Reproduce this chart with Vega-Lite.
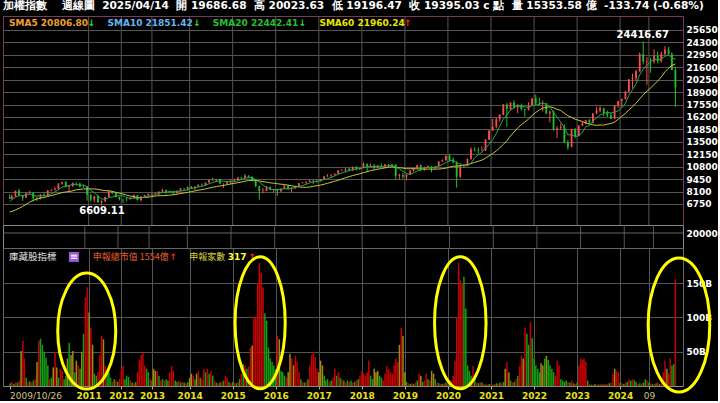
{
"$schema": "https://vega.github.io/schema/vega-lite/v6.json",
"background": "#000000",
"padding": {"left": 2, "top": 1, "right": 0, "bottom": 0},
"spacing": 0,
"bounds": "flush",
"title": {"text": "加權指數\u00a0\u00a0\u00a0\u00a0週線圖\u00a0\u00a02025/04/14\u00a0\u00a0開\u00a019686.68\u00a0\u00a0高\u00a020023.63\u00a0\u00a0低\u00a019196.47\u00a0\u00a0收\u00a019395.03\u00a0c\u00a0點\u00a0\u00a0量\u00a015353.58\u00a0億\u00a0\u00a0-133.74\u00a0(-0.68%)", "anchor": "start", "frame": "group", "font": "DejaVu Sans", "fontSize": 10.6, "fontWeight": "bold", "color": "#ffffff", "offset": 3, "baseline": "top"},
"config": {
  "view": {"stroke": null},
  "axis": {"domain": false, "ticks": false, "gridColor": "#555555", "gridWidth": 1, "labelColor": "#ffffff", "labelFont": "DejaVu Sans", "labelFontSize": 9, "labelFontWeight": "bold", "labelOverlap": false, "labelSeparation": 0}
},
"datasets": {
"gridYears": [
{"date":"2011-08-28"},{"date":"2012-05-31"},{"date":"2013-02-15"},{"date":"2014-01-01"},{"date":"2015-01-01"},{"date":"2016-01-01"},{"date":"2017-01-01"},{"date":"2018-01-01"},{"date":"2019-01-01"},{"date":"2020-01-01"},{"date":"2021-01-01"},{"date":"2022-01-01"},{"date":"2023-01-01"},{"date":"2024-01-01"},{"date":"2024-09-01"}
],
"price": [
{"date":"2009-10-28","open":7509,"high":7812,"low":7281,"close":7340,"sma20":6987,"sma60":5901},
{"date":"2009-11-15","open":7340,"high":7800,"low":7231,"close":7582,"sma20":7217,"sma60":5937},
{"date":"2009-12-15","open":7582,"high":8188,"low":7552,"close":8188,"sma20":7489,"sma60":6102},
{"date":"2010-01-15","open":8188,"high":8395,"low":7640,"close":7640,"sma20":7652,"sma60":6286},
{"date":"2010-02-15","open":7640,"high":7700,"low":7080,"close":7436,"sma20":7637,"sma60":6485},
{"date":"2010-03-15","open":7436,"high":7973,"low":7420,"close":7920,"sma20":7753,"sma60":6707},
{"date":"2010-04-15","open":7920,"high":8190,"low":7860,"close":8004,"sma20":7838,"sma60":6957},
{"date":"2010-05-15","open":8004,"high":8010,"low":7032,"close":7374,"sma20":7675,"sma60":7145},
{"date":"2010-06-15","open":7374,"high":7569,"low":7071,"close":7329,"sma20":7613,"sma60":7286},
{"date":"2010-07-15","open":7329,"high":7837,"low":7250,"close":7760,"sma20":7677,"sma60":7404},
{"date":"2010-08-15","open":7760,"high":7993,"low":7590,"close":7616,"sma20":7617,"sma60":7452},
{"date":"2010-09-15","open":7616,"high":8252,"low":7600,"close":8238,"sma20":7663,"sma60":7573},
{"date":"2010-10-15","open":8238,"high":8383,"low":8110,"close":8287,"sma20":7846,"sma60":7670},
{"date":"2010-11-15","open":8287,"high":8580,"low":8210,"close":8372,"sma20":8055,"sma60":7773},
{"date":"2010-12-15","open":8372,"high":8990,"low":8330,"close":8972,"sma20":8297,"sma60":7870},
{"date":"2011-01-15","open":8972,"high":9145,"low":8850,"close":9145,"sma20":8603,"sma60":7991},
{"date":"2011-02-15","open":9145,"high":9220,"low":8550,"close":8600,"sma20":8675,"sma60":8059},
{"date":"2011-03-15","open":8600,"high":8780,"low":8070,"close":8683,"sma20":8754,"sma60":8092},
{"date":"2011-04-15","open":8683,"high":9100,"low":8610,"close":9007,"sma20":8881,"sma60":8183},
{"date":"2011-05-15","open":9007,"high":9100,"low":8750,"close":8988,"sma20":8885,"sma60":8286},
{"date":"2011-06-15","open":8988,"high":9010,"low":8530,"close":8652,"sma20":8786,"sma60":8335},
{"date":"2011-07-15","open":8652,"high":8860,"low":8520,"close":8644,"sma20":8795,"sma60":8378},
{"date":"2011-08-15","open":8644,"high":8710,"low":7100,"close":7741,"sma20":8606,"sma60":8402},
{"date":"2011-09-15","open":7741,"high":7830,"low":7030,"close":7225,"sma20":8250,"sma60":8395},
{"date":"2011-10-15","open":7225,"high":7640,"low":6950,"close":7588,"sma20":7970,"sma60":8384},
{"date":"2011-11-15","open":7588,"high":7750,"low":6900,"close":6904,"sma20":7620,"sma60":8336},
{"date":"2011-12-15","open":6904,"high":7160,"low":6609,"close":7072,"sma20":7306,"sma60":8259},
{"date":"2012-01-15","open":7072,"high":7520,"low":6950,"close":7517,"sma20":7261,"sma60":8207},
{"date":"2012-02-15","open":7517,"high":8170,"low":7500,"close":8121,"sma20":7440,"sma60":8190},
{"date":"2012-03-15","open":8121,"high":8170,"low":7850,"close":7933,"sma20":7509,"sma60":8121},
{"date":"2012-04-15","open":7933,"high":7950,"low":7450,"close":7501,"sma20":7629,"sma60":8012},
{"date":"2012-05-15","open":7501,"high":7560,"low":7140,"close":7301,"sma20":7675,"sma60":7925},
{"date":"2012-06-15","open":7301,"high":7330,"low":6860,"close":7296,"sma20":7630,"sma60":7832},
{"date":"2012-07-15","open":7296,"high":7450,"low":7060,"close":7270,"sma20":7460,"sma60":7717},
{"date":"2012-08-15","open":7270,"high":7500,"low":7250,"close":7397,"sma20":7353,"sma60":7611},
{"date":"2012-09-15","open":7397,"high":7780,"low":7350,"close":7715,"sma20":7396,"sma60":7548},
{"date":"2012-10-15","open":7715,"high":7760,"low":7150,"close":7166,"sma20":7369,"sma60":7450},
{"date":"2012-11-15","open":7166,"high":7580,"low":7050,"close":7580,"sma20":7426,"sma60":7439},
{"date":"2012-12-15","open":7580,"high":7740,"low":7540,"close":7700,"sma20":7512,"sma60":7471},
{"date":"2013-01-15","open":7700,"high":7870,"low":7630,"close":7850,"sma20":7602,"sma60":7488},
{"date":"2013-02-15","open":7850,"high":7960,"low":7750,"close":7907,"sma20":7641,"sma60":7555},
{"date":"2013-03-15","open":7907,"high":7960,"low":7720,"close":7919,"sma20":7791,"sma60":7612},
{"date":"2013-04-15","open":7919,"high":8100,"low":7700,"close":8093,"sma20":7894,"sma60":7650},
{"date":"2013-05-15","open":8093,"high":8400,"low":8070,"close":8254,"sma20":8005,"sma60":7659},
{"date":"2013-06-15","open":8254,"high":8330,"low":7800,"close":8062,"sma20":8047,"sma60":7667},
{"date":"2013-07-15","open":8062,"high":8200,"low":7950,"close":8108,"sma20":8087,"sma60":7708},
{"date":"2013-08-15","open":8108,"high":8190,"low":7780,"close":7914,"sma20":8086,"sma60":7749},
{"date":"2013-09-15","open":7914,"high":8250,"low":7900,"close":8174,"sma20":8102,"sma60":7807},
{"date":"2013-10-15","open":8174,"high":8460,"low":8150,"close":8450,"sma20":8142,"sma60":7886},
{"date":"2013-11-15","open":8450,"high":8470,"low":8150,"close":8407,"sma20":8211,"sma60":7953},
{"date":"2013-12-15","open":8407,"high":8620,"low":8200,"close":8612,"sma20":8311,"sma60":8013},
{"date":"2014-01-15","open":8612,"high":8700,"low":8400,"close":8463,"sma20":8421,"sma60":8099},
{"date":"2014-02-15","open":8463,"high":8660,"low":8260,"close":8640,"sma20":8514,"sma60":8170},
{"date":"2014-03-15","open":8640,"high":8860,"low":8600,"close":8849,"sma20":8594,"sma60":8247},
{"date":"2014-04-15","open":8849,"high":8980,"low":8740,"close":8792,"sma20":8671,"sma60":8310},
{"date":"2014-05-15","open":8792,"high":9080,"low":8750,"close":9075,"sma20":8764,"sma60":8387},
{"date":"2014-06-15","open":9075,"high":9400,"low":9070,"close":9393,"sma20":8950,"sma60":8486},
{"date":"2014-07-15","open":9393,"high":9593,"low":9300,"close":9316,"sma20":9085,"sma60":8567},
{"date":"2014-08-15","open":9316,"high":9470,"low":9140,"close":9436,"sma20":9202,"sma60":8646},
{"date":"2014-09-15","open":9436,"high":9450,"low":8950,"close":8966,"sma20":9237,"sma60":8706},
{"date":"2014-10-15","open":8966,"high":9010,"low":8500,"close":8974,"sma20":9217,"sma60":8764},
{"date":"2014-11-15","open":8974,"high":9190,"low":8900,"close":9187,"sma20":9176,"sma60":8849},
{"date":"2014-12-15","open":9187,"high":9310,"low":8880,"close":9307,"sma20":9174,"sma60":8924},
{"date":"2015-01-15","open":9307,"high":9500,"low":9160,"close":9361,"sma20":9159,"sma60":8985},
{"date":"2015-02-15","open":9361,"high":9630,"low":9330,"close":9622,"sma20":9290,"sma60":9066},
{"date":"2015-03-15","open":9622,"high":9700,"low":9440,"close":9586,"sma20":9413,"sma60":9131},
{"date":"2015-04-15","open":9586,"high":10014,"low":9560,"close":9820,"sma20":9539,"sma60":9222},
{"date":"2015-05-15","open":9820,"high":9880,"low":9560,"close":9701,"sma20":9618,"sma60":9292},
{"date":"2015-06-15","open":9701,"high":9750,"low":9200,"close":9323,"sma20":9610,"sma60":9324},
{"date":"2015-07-15","open":9323,"high":9450,"low":8600,"close":8665,"sma20":9419,"sma60":9315},
{"date":"2015-08-15","open":8665,"high":8700,"low":7203,"close":8174,"sma20":9137,"sma60":9256},
{"date":"2015-09-15","open":8174,"high":8500,"low":7920,"close":8181,"sma20":8809,"sma60":9175},
{"date":"2015-10-15","open":8181,"high":8700,"low":8150,"close":8554,"sma20":8579,"sma60":9124},
{"date":"2015-11-15","open":8554,"high":8670,"low":8240,"close":8320,"sma20":8379,"sma60":9049},
{"date":"2015-12-15","open":8320,"high":8400,"low":8000,"close":8338,"sma20":8313,"sma60":9007},
{"date":"2016-01-15","open":8338,"high":8340,"low":7627,"close":8145,"sma20":8308,"sma60":8953},
{"date":"2016-02-15","open":8145,"high":8450,"low":8000,"close":8411,"sma20":8354,"sma60":8901},
{"date":"2016-03-15","open":8411,"high":8780,"low":8400,"close":8745,"sma20":8392,"sma60":8863},
{"date":"2016-04-15","open":8745,"high":8800,"low":8290,"close":8377,"sma20":8403,"sma60":8797},
{"date":"2016-05-15","open":8377,"high":8560,"low":8050,"close":8536,"sma20":8443,"sma60":8725},
{"date":"2016-06-15","open":8536,"high":8700,"low":8370,"close":8666,"sma20":8547,"sma60":8664},
{"date":"2016-07-15","open":8666,"high":9030,"low":8600,"close":9008,"sma20":8666,"sma60":8610},
{"date":"2016-08-15","open":9008,"high":9130,"low":8990,"close":9069,"sma20":8731,"sma60":8567},
{"date":"2016-09-15","open":9069,"high":9200,"low":8900,"close":9167,"sma20":8889,"sma60":8557},
{"date":"2016-10-15","open":9167,"high":9400,"low":9150,"close":9290,"sma20":9040,"sma60":8599},
{"date":"2016-11-15","open":9290,"high":9350,"low":8900,"close":9240,"sma20":9155,"sma60":8670},
{"date":"2016-12-15","open":9240,"high":9400,"low":9000,"close":9254,"sma20":9204,"sma60":8741},
{"date":"2017-01-15","open":9254,"high":9480,"low":9180,"close":9448,"sma20":9280,"sma60":8801},
{"date":"2017-02-15","open":9448,"high":9760,"low":9440,"close":9750,"sma20":9396,"sma60":8896},
{"date":"2017-03-15","open":9750,"high":9990,"low":9700,"close":9811,"sma20":9501,"sma60":8995},
{"date":"2017-04-15","open":9811,"high":9980,"low":9650,"close":9872,"sma20":9627,"sma60":9110},
{"date":"2017-05-15","open":9872,"high":10060,"low":9850,"close":10040,"sma20":9784,"sma60":9218},
{"date":"2017-06-15","open":10040,"high":10400,"low":10000,"close":10395,"sma20":9974,"sma60":9328},
{"date":"2017-07-15","open":10395,"high":10510,"low":10300,"close":10427,"sma20":10109,"sma60":9465},
{"date":"2017-08-15","open":10427,"high":10620,"low":10180,"close":10585,"sma20":10264,"sma60":9602},
{"date":"2017-09-15","open":10585,"high":10640,"low":10300,"close":10384,"sma20":10366,"sma60":9716},
{"date":"2017-10-15","open":10384,"high":10800,"low":10350,"close":10793,"sma20":10517,"sma60":9835},
{"date":"2017-11-15","open":10793,"high":10850,"low":10400,"close":10560,"sma20":10550,"sma60":9935},
{"date":"2017-12-15","open":10560,"high":10700,"low":10450,"close":10643,"sma20":10593,"sma60":10033},
{"date":"2018-01-15","open":10643,"high":11270,"low":10640,"close":11103,"sma20":10697,"sma60":10154},
{"date":"2018-02-15","open":11103,"high":11130,"low":10190,"close":10815,"sma20":10783,"sma60":10259},
{"date":"2018-03-15","open":10815,"high":11140,"low":10760,"close":10919,"sma20":10808,"sma60":10370},
{"date":"2018-04-15","open":10919,"high":11100,"low":10500,"close":10657,"sma20":10827,"sma60":10450},
{"date":"2018-05-15","open":10657,"high":11000,"low":10600,"close":10875,"sma20":10874,"sma60":10525},
{"date":"2018-06-15","open":10875,"high":11150,"low":10700,"close":10837,"sma20":10821,"sma60":10594},
{"date":"2018-07-15","open":10837,"high":11100,"low":10650,"close":11057,"sma20":10869,"sma60":10673},
{"date":"2018-08-15","open":11057,"high":11100,"low":10760,"close":11064,"sma20":10898,"sma60":10741},
{"date":"2018-09-15","open":11064,"high":11100,"low":10800,"close":11006,"sma20":10968,"sma60":10782},
{"date":"2018-10-15","open":11006,"high":11100,"low":9400,"close":9802,"sma20":10753,"sma60":10740},
{"date":"2018-11-15","open":9802,"high":10050,"low":9450,"close":9888,"sma20":10563,"sma60":10694},
{"date":"2018-12-15","open":9888,"high":10100,"low":9500,"close":9727,"sma20":10297,"sma60":10650},
{"date":"2019-01-15","open":9727,"high":9960,"low":9320,"close":9932,"sma20":10071,"sma60":10592},
{"date":"2019-02-15","open":9932,"high":10400,"low":9900,"close":10389,"sma20":9948,"sma60":10581},
{"date":"2019-03-15","open":10389,"high":10650,"low":10250,"close":10641,"sma20":10115,"sma60":10581},
{"date":"2019-04-15","open":10641,"high":11000,"low":10600,"close":10967,"sma20":10331,"sma60":10572},
{"date":"2019-05-15","open":10967,"high":11030,"low":10300,"close":10498,"sma20":10485,"sma60":10550},
{"date":"2019-06-15","open":10498,"high":10800,"low":10350,"close":10730,"sma20":10645,"sma60":10538},
{"date":"2019-07-15","open":10730,"high":10950,"low":10700,"close":10824,"sma20":10732,"sma60":10549},
{"date":"2019-08-15","open":10824,"high":10850,"low":10200,"close":10618,"sma20":10727,"sma60":10532},
{"date":"2019-09-15","open":10618,"high":10900,"low":10600,"close":10830,"sma20":10700,"sma60":10531},
{"date":"2019-10-15","open":10830,"high":11400,"low":10800,"close":11358,"sma20":10872,"sma60":10551},
{"date":"2019-11-15","open":11358,"high":11600,"low":11350,"close":11490,"sma20":11024,"sma60":10580},
{"date":"2019-12-15","open":11490,"high":12000,"low":11450,"close":11997,"sma20":11259,"sma60":10646},
{"date":"2020-01-15","open":11997,"high":12197,"low":11400,"close":11495,"sma20":11434,"sma60":10759},
{"date":"2020-02-15","open":11495,"high":11800,"low":11150,"close":11292,"sma20":11526,"sma60":10852},
{"date":"2020-03-15","open":11292,"high":11400,"low":8523,"close":9708,"sma20":11196,"sma60":10851},
{"date":"2020-04-15","open":9708,"high":11000,"low":9600,"close":10992,"sma20":11097,"sma60":10922},
{"date":"2020-05-15","open":10992,"high":11100,"low":10700,"close":10942,"sma20":10886,"sma60":10959},
{"date":"2020-06-15","open":10942,"high":11700,"low":10900,"close":11621,"sma20":10911,"sma60":11024},
{"date":"2020-07-15","open":11621,"high":12900,"low":11600,"close":12665,"sma20":11186,"sma60":11137},
{"date":"2020-08-15","open":12665,"high":12900,"low":12450,"close":12592,"sma20":11762,"sma60":11277},
{"date":"2020-09-15","open":12592,"high":12900,"low":12200,"close":12516,"sma20":12067,"sma60":11396},
{"date":"2020-10-15","open":12516,"high":13000,"low":12500,"close":12546,"sma20":12388,"sma60":11511},
{"date":"2020-11-15","open":12546,"high":13800,"low":12500,"close":13722,"sma20":12808,"sma60":11718},
{"date":"2020-12-15","open":13722,"high":14750,"low":13700,"close":14733,"sma20":13222,"sma60":11978},
{"date":"2021-01-15","open":14733,"high":16000,"low":14700,"close":15138,"sma20":13731,"sma60":12230},
{"date":"2021-02-15","open":15138,"high":16100,"low":15000,"close":15953,"sma20":14418,"sma60":12527},
{"date":"2021-03-15","open":15953,"high":16500,"low":15700,"close":16431,"sma20":15195,"sma60":12823},
{"date":"2021-04-15","open":16431,"high":17600,"low":16400,"close":17567,"sma20":15964,"sma60":13228},
{"date":"2021-05-15","open":17567,"high":17700,"low":15162,"close":17068,"sma20":16431,"sma60":13613},
{"date":"2021-06-15","open":17068,"high":17800,"low":16900,"close":17755,"sma20":16955,"sma60":14149},
{"date":"2021-07-15","open":17755,"high":18034,"low":17100,"close":17247,"sma20":17214,"sma60":14566},
{"date":"2021-08-15","open":17247,"high":17600,"low":16600,"close":17490,"sma20":17425,"sma60":15003},
{"date":"2021-09-15","open":17490,"high":17650,"low":16900,"close":17066,"sma20":17325,"sma60":15366},
{"date":"2021-10-15","open":17066,"high":17100,"low":16250,"close":16987,"sma20":17309,"sma60":15654},
{"date":"2021-11-15","open":16987,"high":17800,"low":16900,"close":17428,"sma20":17244,"sma60":15977},
{"date":"2021-12-15","open":17428,"high":18250,"low":17400,"close":18218,"sma20":17438,"sma60":16357},
{"date":"2022-01-15","open":18218,"high":18619,"low":17500,"close":17674,"sma20":17475,"sma60":16698},
{"date":"2022-02-15","open":17674,"high":18300,"low":17400,"close":17652,"sma20":17592,"sma60":16960},
{"date":"2022-03-15","open":17652,"high":18000,"low":16800,"close":17693,"sma20":17733,"sma60":17158},
{"date":"2022-04-15","open":17693,"high":17700,"low":16500,"close":16592,"sma20":17566,"sma60":17255},
{"date":"2022-05-15","open":16592,"high":16900,"low":15600,"close":16808,"sma20":17284,"sma60":17312},
{"date":"2022-06-15","open":16808,"high":16900,"low":14700,"close":14826,"sma20":16714,"sma60":17205},
{"date":"2022-07-15","open":14826,"high":15200,"low":13900,"close":14981,"sma20":16180,"sma60":17032},
{"date":"2022-08-15","open":14981,"high":15500,"low":14800,"close":15095,"sma20":15660,"sma60":16901},
{"date":"2022-09-15","open":15095,"high":15400,"low":13400,"close":13425,"sma20":15027,"sma60":16612},
{"date":"2022-10-15","open":13425,"high":13700,"low":12629,"close":12950,"sma20":14255,"sma60":16326},
{"date":"2022-11-15","open":12950,"high":14900,"low":12900,"close":14880,"sma20":14266,"sma60":16152},
{"date":"2022-12-15","open":14880,"high":15000,"low":13900,"close":14138,"sma20":14098,"sma60":15957},
{"date":"2023-01-15","open":14138,"high":15300,"low":14100,"close":15265,"sma20":14132,"sma60":15842},
{"date":"2023-02-15","open":15265,"high":15700,"low":15200,"close":15504,"sma20":14547,"sma60":15713},
{"date":"2023-03-15","open":15504,"high":15900,"low":15400,"close":15868,"sma20":15131,"sma60":15557},
{"date":"2023-04-15","open":15868,"high":16000,"low":15400,"close":15579,"sma20":15271,"sma60":15417},
{"date":"2023-05-15","open":15579,"high":16600,"low":15500,"close":16579,"sma20":15759,"sma60":15346},
{"date":"2023-06-15","open":16579,"high":17300,"low":16500,"close":16916,"sma20":16089,"sma60":15294},
{"date":"2023-07-15","open":16916,"high":17400,"low":16700,"close":17146,"sma20":16418,"sma60":15331},
{"date":"2023-08-15","open":17146,"high":17200,"low":16300,"close":16635,"sma20":16571,"sma60":15319},
{"date":"2023-09-15","open":16635,"high":16900,"low":16200,"close":16354,"sma20":16726,"sma60":15421},
{"date":"2023-10-15","open":16354,"high":16700,"low":16000,"close":16001,"sma20":16610,"sma60":15489},
{"date":"2023-11-15","open":16001,"high":17500,"low":16000,"close":17433,"sma20":16714,"sma60":15645},
{"date":"2023-12-15","open":17433,"high":17950,"low":17200,"close":17931,"sma20":16871,"sma60":15945},
{"date":"2024-01-15","open":17931,"high":18200,"low":17300,"close":18151,"sma20":17174,"sma60":16292},
{"date":"2024-02-15","open":18151,"high":19000,"low":18100,"close":18967,"sma20":17697,"sma60":16565},
{"date":"2024-03-15","open":18967,"high":20300,"low":18900,"close":20294,"sma20":18555,"sma60":16975},
{"date":"2024-04-15","open":20294,"high":20900,"low":19300,"close":20397,"sma20":19148,"sma60":17317},
{"date":"2024-05-15","open":20397,"high":21300,"low":20100,"close":21174,"sma20":19797,"sma60":17695},
{"date":"2024-06-15","open":21174,"high":23200,"low":21100,"close":23033,"sma20":20773,"sma60":18173},
{"date":"2024-07-15","open":23033,"high":24417,"low":21900,"close":22200,"sma20":21420,"sma60":18614},
{"date":"2024-08-15","open":22200,"high":22700,"low":19662,"close":22268,"sma20":21814,"sma60":18993},
{"date":"2024-09-15","open":22268,"high":22600,"low":21000,"close":22225,"sma20":22180,"sma60":19347},
{"date":"2024-10-15","open":22225,"high":23550,"low":22000,"close":22820,"sma20":22509,"sma60":19726},
{"date":"2024-11-15","open":22820,"high":23300,"low":22000,"close":22262,"sma20":22355,"sma60":20101},
{"date":"2024-12-15","open":22262,"high":23300,"low":22100,"close":23035,"sma20":22522,"sma60":20546},
{"date":"2025-01-15","open":23035,"high":23900,"low":22900,"close":23526,"sma20":22774,"sma60":21100},
{"date":"2025-02-15","open":23526,"high":23800,"low":22900,"close":23053,"sma20":22939,"sma60":21500},
{"date":"2025-03-15","open":23053,"high":23200,"low":21300,"close":21298,"sma20":22635,"sma60":21800},
{"date":"2025-04-14","open":21298,"high":21600,"low":17306,"close":19395,"sma20":22442,"sma60":21960}
],
"buyback": [
{"date":"2009-11-01","value":4,"dir":"down"},{"date":"2009-11-16","value":6,"dir":"up"},{"date":"2009-12-01","value":3,"dir":"down"},{"date":"2009-12-16","value":5,"dir":"up"},
{"date":"2010-01-01","value":5,"dir":"down"},{"date":"2010-01-16","value":8,"dir":"up"},{"date":"2010-02-01","value":51,"dir":"mixed"},{"date":"2010-02-16","value":66,"dir":"up"},{"date":"2010-03-01","value":40,"dir":"up"},{"date":"2010-03-16","value":12,"dir":"down"},{"date":"2010-04-01","value":6,"dir":"up"},{"date":"2010-04-16","value":7,"dir":"down"},{"date":"2010-05-01","value":5,"dir":"up"},{"date":"2010-05-16","value":8,"dir":"down"},{"date":"2010-06-01","value":10,"dir":"up"},{"date":"2010-06-16","value":35,"dir":"mixed"},{"date":"2010-07-01","value":66,"dir":"up"},{"date":"2010-07-16","value":69,"dir":"down"},{"date":"2010-08-01","value":60,"dir":"down"},{"date":"2010-08-16","value":50,"dir":"down"},{"date":"2010-09-01","value":41,"dir":"down"},{"date":"2010-09-16","value":30,"dir":"down"},{"date":"2010-10-01","value":10,"dir":"up"},{"date":"2010-10-16","value":12,"dir":"down"},{"date":"2010-11-01","value":27,"dir":"mixed"},{"date":"2010-11-16","value":50,"dir":"up"},{"date":"2010-12-01","value":27,"dir":"mixed"},{"date":"2010-12-16","value":12,"dir":"down"},
{"date":"2011-01-01","value":25,"dir":"up"},{"date":"2011-01-16","value":22,"dir":"up"},{"date":"2011-02-01","value":10,"dir":"down"},{"date":"2011-02-16","value":15,"dir":"down"},{"date":"2011-03-01","value":40,"dir":"mixed"},{"date":"2011-03-16","value":63,"dir":"down"},{"date":"2011-04-01","value":45,"dir":"mixed"},{"date":"2011-04-16","value":51,"dir":"mixed"},{"date":"2011-05-01","value":20,"dir":"down"},{"date":"2011-05-16","value":37,"dir":"mixed"},{"date":"2011-06-01","value":30,"dir":"up"},{"date":"2011-06-16","value":25,"dir":"down"},{"date":"2011-07-01","value":50,"dir":"mixed"},{"date":"2011-07-16","value":76,"dir":"down"},{"date":"2011-08-01","value":129,"dir":"up"},{"date":"2011-08-16","value":144,"dir":"up"},{"date":"2011-09-01","value":107,"dir":"mixed"},{"date":"2011-09-16","value":85,"dir":"up"},{"date":"2011-10-01","value":60,"dir":"mixed"},{"date":"2011-10-16","value":18,"dir":"down"},{"date":"2011-11-01","value":15,"dir":"down"},{"date":"2011-11-16","value":20,"dir":"up"},{"date":"2011-12-01","value":45,"dir":"up"},{"date":"2011-12-16","value":73,"dir":"up"},
{"date":"2012-01-01","value":68,"dir":"mixed"},{"date":"2012-01-16","value":30,"dir":"up"},{"date":"2012-02-01","value":22,"dir":"down"},{"date":"2012-02-16","value":20,"dir":"down"},{"date":"2012-03-01","value":12,"dir":"down"},{"date":"2012-03-16","value":6,"dir":"up"},{"date":"2012-04-01","value":10,"dir":"down"},{"date":"2012-04-16","value":8,"dir":"up"},{"date":"2012-05-01","value":6,"dir":"down"},{"date":"2012-05-16","value":10,"dir":"up"},{"date":"2012-06-01","value":25,"dir":"up"},{"date":"2012-06-16","value":29,"dir":"up"},{"date":"2012-07-01","value":10,"dir":"down"},{"date":"2012-07-16","value":15,"dir":"down"},{"date":"2012-08-01","value":13,"dir":"down"},{"date":"2012-08-16","value":8,"dir":"up"},{"date":"2012-09-01","value":5,"dir":"down"},{"date":"2012-09-16","value":4,"dir":"up"},{"date":"2012-10-01","value":6,"dir":"down"},{"date":"2012-10-16","value":20,"dir":"up"},{"date":"2012-11-01","value":38,"dir":"up"},{"date":"2012-11-16","value":45,"dir":"up"},{"date":"2012-12-01","value":48,"dir":"up"},{"date":"2012-12-16","value":30,"dir":"up"},
{"date":"2013-01-01","value":25,"dir":"down"},{"date":"2013-01-16","value":20,"dir":"down"},{"date":"2013-02-01","value":10,"dir":"up"},{"date":"2013-02-16","value":8,"dir":"down"},{"date":"2013-03-01","value":25,"dir":"mixed"},{"date":"2013-03-16","value":22,"dir":"mixed"},{"date":"2013-04-01","value":22,"dir":"up"},{"date":"2013-04-16","value":15,"dir":"down"},{"date":"2013-05-01","value":8,"dir":"up"},{"date":"2013-05-16","value":10,"dir":"down"},{"date":"2013-06-01","value":8,"dir":"up"},{"date":"2013-06-16","value":10,"dir":"down"},{"date":"2013-07-01","value":8,"dir":"down"},{"date":"2013-07-16","value":20,"dir":"up"},{"date":"2013-08-01","value":29,"dir":"up"},{"date":"2013-08-16","value":22,"dir":"up"},{"date":"2013-09-01","value":8,"dir":"down"},{"date":"2013-09-16","value":6,"dir":"down"},{"date":"2013-10-01","value":8,"dir":"up"},{"date":"2013-10-16","value":5,"dir":"down"},{"date":"2013-11-01","value":6,"dir":"up"},{"date":"2013-11-16","value":5,"dir":"down"},{"date":"2013-12-01","value":4,"dir":"up"},{"date":"2013-12-16","value":6,"dir":"down"},
{"date":"2014-01-01","value":12,"dir":"mixed"},{"date":"2014-01-16","value":18,"dir":"mixed"},{"date":"2014-02-01","value":15,"dir":"up"},{"date":"2014-02-16","value":10,"dir":"down"},{"date":"2014-03-01","value":18,"dir":"mixed"},{"date":"2014-03-16","value":22,"dir":"up"},{"date":"2014-04-01","value":12,"dir":"down"},{"date":"2014-04-16","value":10,"dir":"up"},{"date":"2014-05-01","value":25,"dir":"up"},{"date":"2014-05-16","value":20,"dir":"down"},{"date":"2014-06-01","value":25,"dir":"up"},{"date":"2014-06-16","value":18,"dir":"down"},{"date":"2014-07-01","value":22,"dir":"up"},{"date":"2014-07-16","value":15,"dir":"down"},{"date":"2014-08-01","value":8,"dir":"up"},{"date":"2014-08-16","value":5,"dir":"down"},{"date":"2014-09-01","value":4,"dir":"up"},{"date":"2014-09-16","value":5,"dir":"down"},{"date":"2014-10-01","value":6,"dir":"up"},{"date":"2014-10-16","value":8,"dir":"down"},{"date":"2014-11-01","value":15,"dir":"up"},{"date":"2014-11-16","value":12,"dir":"up"},{"date":"2014-12-01","value":6,"dir":"down"},{"date":"2014-12-16","value":4,"dir":"up"},
{"date":"2015-01-01","value":6,"dir":"down"},{"date":"2015-01-16","value":5,"dir":"up"},{"date":"2015-02-01","value":4,"dir":"down"},{"date":"2015-02-16","value":6,"dir":"up"},{"date":"2015-03-01","value":10,"dir":"down"},{"date":"2015-03-16","value":18,"dir":"up"},{"date":"2015-04-01","value":32,"dir":"down"},{"date":"2015-04-16","value":30,"dir":"up"},{"date":"2015-05-01","value":25,"dir":"down"},{"date":"2015-05-16","value":28,"dir":"up"},{"date":"2015-06-01","value":56,"dir":"up"},{"date":"2015-06-16","value":59,"dir":"mixed"},{"date":"2015-07-01","value":100,"dir":"up"},{"date":"2015-07-16","value":100,"dir":"up"},{"date":"2015-08-01","value":150,"dir":"up"},{"date":"2015-08-16","value":179,"dir":"up"},{"date":"2015-09-01","value":165,"dir":"up"},{"date":"2015-09-16","value":144,"dir":"up"},{"date":"2015-10-01","value":106,"dir":"down"},{"date":"2015-10-16","value":95,"dir":"down"},{"date":"2015-11-01","value":56,"dir":"down"},{"date":"2015-11-16","value":40,"dir":"down"},{"date":"2015-12-01","value":35,"dir":"down"},{"date":"2015-12-16","value":30,"dir":"down"},
{"date":"2016-01-01","value":25,"dir":"down"},{"date":"2016-01-16","value":73,"dir":"up"},{"date":"2016-02-01","value":68,"dir":"mixed"},{"date":"2016-02-16","value":22,"dir":"down"},{"date":"2016-03-01","value":20,"dir":"down"},{"date":"2016-03-16","value":15,"dir":"down"},{"date":"2016-04-01","value":12,"dir":"up"},{"date":"2016-04-16","value":20,"dir":"mixed"},{"date":"2016-05-01","value":47,"dir":"mixed"},{"date":"2016-05-16","value":40,"dir":"up"},{"date":"2016-06-01","value":30,"dir":"mixed"},{"date":"2016-06-16","value":44,"dir":"up"},{"date":"2016-07-01","value":35,"dir":"up"},{"date":"2016-07-16","value":20,"dir":"up"},{"date":"2016-08-01","value":10,"dir":"down"},{"date":"2016-08-16","value":6,"dir":"up"},{"date":"2016-09-01","value":5,"dir":"down"},{"date":"2016-09-16","value":6,"dir":"up"},{"date":"2016-10-01","value":10,"dir":"down"},{"date":"2016-10-16","value":30,"dir":"up"},{"date":"2016-11-01","value":45,"dir":"up"},{"date":"2016-11-16","value":50,"dir":"up"},{"date":"2016-12-01","value":42,"dir":"up"},{"date":"2016-12-16","value":25,"dir":"up"},
{"date":"2017-01-01","value":20,"dir":"mixed"},{"date":"2017-01-16","value":37,"dir":"mixed"},{"date":"2017-02-01","value":30,"dir":"mixed"},{"date":"2017-02-16","value":15,"dir":"down"},{"date":"2017-03-01","value":8,"dir":"down"},{"date":"2017-03-16","value":10,"dir":"down"},{"date":"2017-04-01","value":6,"dir":"up"},{"date":"2017-04-16","value":8,"dir":"down"},{"date":"2017-05-01","value":12,"dir":"up"},{"date":"2017-05-16","value":25,"dir":"up"},{"date":"2017-06-01","value":15,"dir":"down"},{"date":"2017-06-16","value":20,"dir":"up"},{"date":"2017-07-01","value":12,"dir":"down"},{"date":"2017-07-16","value":10,"dir":"up"},{"date":"2017-08-01","value":8,"dir":"down"},{"date":"2017-08-16","value":5,"dir":"up"},{"date":"2017-09-01","value":8,"dir":"down"},{"date":"2017-09-16","value":6,"dir":"up"},{"date":"2017-10-01","value":8,"dir":"down"},{"date":"2017-10-16","value":5,"dir":"up"},{"date":"2017-11-01","value":6,"dir":"down"},{"date":"2017-11-16","value":8,"dir":"up"},{"date":"2017-12-01","value":10,"dir":"down"},{"date":"2017-12-16","value":15,"dir":"up"},
{"date":"2018-01-01","value":22,"dir":"up"},{"date":"2018-01-16","value":18,"dir":"up"},{"date":"2018-02-01","value":15,"dir":"up"},{"date":"2018-02-16","value":20,"dir":"up"},{"date":"2018-03-01","value":37,"dir":"up"},{"date":"2018-03-16","value":15,"dir":"down"},{"date":"2018-04-01","value":10,"dir":"down"},{"date":"2018-04-16","value":25,"dir":"mixed"},{"date":"2018-05-01","value":20,"dir":"mixed"},{"date":"2018-05-16","value":22,"dir":"mixed"},{"date":"2018-06-01","value":15,"dir":"down"},{"date":"2018-06-16","value":12,"dir":"down"},{"date":"2018-07-01","value":8,"dir":"up"},{"date":"2018-07-16","value":18,"dir":"up"},{"date":"2018-08-01","value":29,"dir":"up"},{"date":"2018-08-16","value":25,"dir":"up"},{"date":"2018-09-01","value":20,"dir":"up"},{"date":"2018-09-16","value":18,"dir":"up"},{"date":"2018-10-01","value":30,"dir":"up"},{"date":"2018-10-16","value":40,"dir":"up"},{"date":"2018-11-01","value":35,"dir":"up"},{"date":"2018-11-16","value":60,"dir":"mixed"},{"date":"2018-12-01","value":85,"dir":"up"},{"date":"2018-12-16","value":73,"dir":"mixed"},
{"date":"2019-01-01","value":20,"dir":"mixed"},{"date":"2019-01-16","value":6,"dir":"down"},{"date":"2019-02-01","value":4,"dir":"up"},{"date":"2019-02-16","value":3,"dir":"down"},{"date":"2019-03-01","value":4,"dir":"up"},{"date":"2019-03-16","value":3,"dir":"down"},{"date":"2019-04-01","value":5,"dir":"up"},{"date":"2019-04-16","value":8,"dir":"down"},{"date":"2019-05-01","value":18,"dir":"up"},{"date":"2019-05-16","value":15,"dir":"mixed"},{"date":"2019-06-01","value":6,"dir":"down"},{"date":"2019-06-16","value":8,"dir":"up"},{"date":"2019-07-01","value":18,"dir":"up"},{"date":"2019-07-16","value":10,"dir":"down"},{"date":"2019-08-01","value":8,"dir":"up"},{"date":"2019-08-16","value":22,"dir":"mixed"},{"date":"2019-09-01","value":18,"dir":"mixed"},{"date":"2019-09-16","value":10,"dir":"down"},{"date":"2019-10-01","value":5,"dir":"up"},{"date":"2019-10-16","value":4,"dir":"down"},{"date":"2019-11-01","value":3,"dir":"up"},{"date":"2019-11-16","value":3,"dir":"down"},{"date":"2019-12-01","value":4,"dir":"up"},{"date":"2019-12-16","value":5,"dir":"down"},
{"date":"2020-01-01","value":4,"dir":"up"},{"date":"2020-01-16","value":8,"dir":"down"},{"date":"2020-02-01","value":8,"dir":"up"},{"date":"2020-02-16","value":15,"dir":"up"},{"date":"2020-03-01","value":37,"dir":"up"},{"date":"2020-03-16","value":100,"dir":"up"},{"date":"2020-04-01","value":179,"dir":"up"},{"date":"2020-04-16","value":154,"dir":"up"},{"date":"2020-05-01","value":150,"dir":"up"},{"date":"2020-05-16","value":159,"dir":"down"},{"date":"2020-06-01","value":113,"dir":"down"},{"date":"2020-06-16","value":30,"dir":"down"},{"date":"2020-07-01","value":22,"dir":"down"},{"date":"2020-07-16","value":15,"dir":"down"},{"date":"2020-08-01","value":29,"dir":"up"},{"date":"2020-08-16","value":12,"dir":"down"},{"date":"2020-09-01","value":5,"dir":"up"},{"date":"2020-09-16","value":4,"dir":"down"},{"date":"2020-10-01","value":6,"dir":"up"},{"date":"2020-10-16","value":5,"dir":"down"},{"date":"2020-11-01","value":3,"dir":"up"},{"date":"2020-11-16","value":2,"dir":"down"},{"date":"2020-12-01","value":2,"dir":"up"},{"date":"2020-12-16","value":3,"dir":"down"},
{"date":"2021-01-01","value":3,"dir":"up"},{"date":"2021-01-16","value":2,"dir":"down"},{"date":"2021-02-01","value":3,"dir":"up"},{"date":"2021-02-16","value":4,"dir":"down"},{"date":"2021-03-01","value":3,"dir":"up"},{"date":"2021-03-16","value":5,"dir":"down"},{"date":"2021-04-01","value":4,"dir":"up"},{"date":"2021-04-16","value":6,"dir":"down"},{"date":"2021-05-01","value":25,"dir":"mixed"},{"date":"2021-05-16","value":35,"dir":"up"},{"date":"2021-06-01","value":20,"dir":"mixed"},{"date":"2021-06-16","value":8,"dir":"down"},{"date":"2021-07-01","value":5,"dir":"up"},{"date":"2021-07-16","value":6,"dir":"down"},{"date":"2021-08-01","value":10,"dir":"up"},{"date":"2021-08-16","value":15,"dir":"down"},{"date":"2021-09-01","value":29,"dir":"up"},{"date":"2021-09-16","value":44,"dir":"up"},{"date":"2021-10-01","value":40,"dir":"mixed"},{"date":"2021-10-16","value":85,"dir":"up"},{"date":"2021-11-01","value":76,"dir":"down"},{"date":"2021-11-16","value":60,"dir":"down"},{"date":"2021-12-01","value":93,"dir":"up"},{"date":"2021-12-16","value":70,"dir":"down"},
{"date":"2022-01-01","value":40,"dir":"down"},{"date":"2022-01-16","value":30,"dir":"down"},{"date":"2022-02-01","value":25,"dir":"down"},{"date":"2022-02-16","value":20,"dir":"down"},{"date":"2022-03-01","value":33,"dir":"mixed"},{"date":"2022-03-16","value":30,"dir":"mixed"},{"date":"2022-04-01","value":40,"dir":"down"},{"date":"2022-04-16","value":44,"dir":"mixed"},{"date":"2022-05-01","value":38,"dir":"down"},{"date":"2022-05-16","value":30,"dir":"down"},{"date":"2022-06-01","value":25,"dir":"down"},{"date":"2022-06-16","value":20,"dir":"down"},{"date":"2022-07-01","value":15,"dir":"up"},{"date":"2022-07-16","value":37,"dir":"up"},{"date":"2022-08-01","value":30,"dir":"up"},{"date":"2022-08-16","value":10,"dir":"down"},{"date":"2022-09-01","value":8,"dir":"down"},{"date":"2022-09-16","value":6,"dir":"down"},{"date":"2022-10-01","value":8,"dir":"down"},{"date":"2022-10-16","value":6,"dir":"up"},{"date":"2022-11-01","value":5,"dir":"down"},{"date":"2022-11-16","value":8,"dir":"up"},{"date":"2022-12-01","value":4,"dir":"down"},{"date":"2022-12-16","value":3,"dir":"up"},
{"date":"2023-01-01","value":5,"dir":"down"},{"date":"2023-01-16","value":30,"dir":"up"},{"date":"2023-02-01","value":40,"dir":"up"},{"date":"2023-02-16","value":38,"dir":"up"},{"date":"2023-03-01","value":40,"dir":"up"},{"date":"2023-03-16","value":35,"dir":"up"},{"date":"2023-04-01","value":8,"dir":"down"},{"date":"2023-04-16","value":3,"dir":"up"},{"date":"2023-05-01","value":2,"dir":"down"},{"date":"2023-05-16","value":2,"dir":"up"},{"date":"2023-06-01","value":3,"dir":"down"},{"date":"2023-06-16","value":2,"dir":"up"},{"date":"2023-07-01","value":2,"dir":"down"},{"date":"2023-07-16","value":3,"dir":"up"},{"date":"2023-08-01","value":2,"dir":"down"},{"date":"2023-08-16","value":3,"dir":"up"},{"date":"2023-09-01","value":2,"dir":"down"},{"date":"2023-09-16","value":3,"dir":"up"},{"date":"2023-10-01","value":4,"dir":"down"},{"date":"2023-10-16","value":5,"dir":"up"},{"date":"2023-11-01","value":18,"dir":"up"},{"date":"2023-11-16","value":25,"dir":"mixed"},{"date":"2023-12-01","value":22,"dir":"up"},{"date":"2023-12-16","value":20,"dir":"up"},
{"date":"2024-01-01","value":5,"dir":"down"},{"date":"2024-01-16","value":4,"dir":"up"},{"date":"2024-02-01","value":3,"dir":"down"},{"date":"2024-02-16","value":5,"dir":"up"},{"date":"2024-03-01","value":6,"dir":"down"},{"date":"2024-03-16","value":10,"dir":"up"},{"date":"2024-04-01","value":8,"dir":"down"},{"date":"2024-04-16","value":10,"dir":"up"},{"date":"2024-05-01","value":8,"dir":"down"},{"date":"2024-05-16","value":6,"dir":"down"},{"date":"2024-06-01","value":3,"dir":"up"},{"date":"2024-06-16","value":4,"dir":"down"},{"date":"2024-07-01","value":3,"dir":"up"},{"date":"2024-07-16","value":5,"dir":"down"},{"date":"2024-08-01","value":10,"dir":"down"},{"date":"2024-08-16","value":8,"dir":"up"},{"date":"2024-09-01","value":5,"dir":"down"},{"date":"2024-09-16","value":4,"dir":"up"},{"date":"2024-10-01","value":3,"dir":"down"},{"date":"2024-10-16","value":3,"dir":"up"},{"date":"2024-11-01","value":4,"dir":"down"},{"date":"2024-11-16","value":5,"dir":"up"},{"date":"2024-12-01","value":3,"dir":"down"},{"date":"2024-12-16","value":4,"dir":"up"},
{"date":"2025-01-01","value":20,"dir":"up"},{"date":"2025-01-16","value":37,"dir":"up"},{"date":"2025-02-01","value":25,"dir":"mixed"},{"date":"2025-02-16","value":18,"dir":"up"},{"date":"2025-03-01","value":40,"dir":"up"},{"date":"2025-03-16","value":30,"dir":"down"},{"date":"2025-04-01","value":32,"dir":"down"},{"date":"2025-04-14","value":155.4,"dir":"up"}
]
},
"vconcat": [
{
 "width": 680, "height": 209,
 "view": {"stroke": "#7a3a58"},
 "resolve": {"axis": {"x": "independent", "y": "independent"}},
 "layer": [
  {"data": {"name": "gridYears"}, "mark": {"type": "rule", "strokeWidth": 1, "color": "#555555"},
   "encoding": {
    "x": {"field": "date", "type": "temporal", "title": null, "axis": null,
      "scale": {"domain": [{"year": 2009, "month": 10, "date": 13}, {"year": 2025, "month": 5, "date": 6}], "nice": false}}
   }},
  {"data": {"name": "price"}, "mark": {"type": "rule", "strokeWidth": 1},
   "encoding": {
    "x": {"field": "date", "type": "temporal", "title": null, "axis": null,
      "scale": {"domain": [{"year": 2009, "month": 10, "date": 13}, {"year": 2025, "month": 5, "date": 6}], "nice": false}},
    "y": {"field": "low", "type": "quantitative", "title": null,
      "scale": {"domain": [4469, 27167], "nice": false, "zero": false},
      "axis": {"orient": "right", "values": [6750, 8100, 9450, 10800, 12150, 13500, 14850, 16200, 17550, 18900, 20250, 21600, 22950, 24300, 25650], "grid": true, "gridColor": "#555555", "labelPadding": 3, "format": "d", "labelOverlap": false}},
    "y2": {"field": "high"},
    "color": {"condition": {"test": "datum.close >= datum.open", "value": "#ff4a4a"}, "value": "#22c022"}
   }},
  {"data": {"name": "price"}, "mark": {"type": "bar", "size": 1.8},
   "encoding": {
    "x": {"field": "date", "type": "temporal", "title": null, "axis": null},
    "y": {"field": "open", "type": "quantitative", "title": null, "axis": null},
    "y2": {"field": "close"},
    "color": {"condition": {"test": "datum.close >= datum.open", "value": "#ff4a4a"}, "value": "#22c022"}
   }},
  {"data": {"name": "price"}, "mark": {"type": "line", "strokeWidth": 1, "color": "#c8c832"},
   "encoding": {"x": {"field": "date", "type": "temporal", "title": null, "axis": null}, "y": {"field": "sma60", "type": "quantitative", "title": null, "axis": null}}},
  {"data": {"name": "price"}, "mark": {"type": "line", "strokeWidth": 1, "color": "#22aa55"},
   "encoding": {"x": {"field": "date", "type": "temporal", "title": null, "axis": null}, "y": {"field": "sma20", "type": "quantitative", "title": null, "axis": null}}},
  {"data": {"values": [{"date": "2024-07-11", "value": 24416.67}]}, "mark": {"type": "text", "align": "center", "baseline": "bottom", "dy": -1, "font": "DejaVu Sans", "fontSize": 10, "fontWeight": "bold", "color": "#ffffff"},
   "encoding": {"x": {"field": "date", "type": "temporal", "title": null, "axis": null}, "y": {"field": "value", "type": "quantitative", "title": null, "axis": null}, "text": {"field": "value", "type": "quantitative", "format": ".2f"}}},
  {"data": {"values": [{"date": "2011-12-19", "value": 6609.11}]}, "mark": {"type": "text", "align": "center", "baseline": "top", "dy": 1, "font": "DejaVu Sans", "fontSize": 10, "fontWeight": "bold", "color": "#ffffff"},
   "encoding": {"x": {"field": "date", "type": "temporal", "title": null, "axis": null}, "y": {"field": "value", "type": "quantitative", "title": null, "axis": null}, "text": {"field": "value", "type": "quantitative", "format": ".2f"}}},
  {"data": {"values": [{}]}, "mark": {"type": "text", "text": "SMA5 20806.80", "align": "left", "baseline": "middle", "font": "DejaVu Sans", "fontSize": 9, "fontWeight": "bold", "color": "#f0a030"},
   "encoding": {"x": {"datum": {"year": 2009, "month": 10, "date": 22}, "type": "temporal", "title": null, "axis": null}, "y": {"datum": 26400, "type": "quantitative", "title": null, "axis": null}}},
  {"data": {"values": [{}]}, "mark": {"type": "text", "text": "↓", "align": "left", "baseline": "middle", "font": "DejaVu Sans", "fontSize": 9, "fontWeight": "bold", "color": "#22e022"},
   "encoding": {"x": {"datum": {"year": 2011, "month": 8, "date": 20}, "type": "temporal", "title": null, "axis": null}, "y": {"datum": 26400, "type": "quantitative", "title": null, "axis": null}}},
  {"data": {"values": [{}]}, "mark": {"type": "text", "text": "SMA10 21851.42", "align": "left", "baseline": "middle", "font": "DejaVu Sans", "fontSize": 9, "fontWeight": "bold", "color": "#60b8f0"},
   "encoding": {"x": {"datum": {"year": 2012, "month": 2, "date": 4}, "type": "temporal", "title": null, "axis": null}, "y": {"datum": 26400, "type": "quantitative", "title": null, "axis": null}}},
  {"data": {"values": [{}]}, "mark": {"type": "text", "text": "↓", "align": "left", "baseline": "middle", "font": "DejaVu Sans", "fontSize": 9, "fontWeight": "bold", "color": "#22e022"},
   "encoding": {"x": {"datum": {"year": 2014, "month": 1, "date": 31}, "type": "temporal", "title": null, "axis": null}, "y": {"datum": 26400, "type": "quantitative", "title": null, "axis": null}}},
  {"data": {"values": [{}]}, "mark": {"type": "text", "text": "SMA20 22442.41", "align": "left", "baseline": "middle", "font": "DejaVu Sans", "fontSize": 9, "fontWeight": "bold", "color": "#22c030"},
   "encoding": {"x": {"datum": {"year": 2014, "month": 7, "date": 17}, "type": "temporal", "title": null, "axis": null}, "y": {"datum": 26400, "type": "quantitative", "title": null, "axis": null}}},
  {"data": {"values": [{}]}, "mark": {"type": "text", "text": "↓", "align": "left", "baseline": "middle", "font": "DejaVu Sans", "fontSize": 9, "fontWeight": "bold", "color": "#22e022"},
   "encoding": {"x": {"datum": {"year": 2016, "month": 7, "date": 14}, "type": "temporal", "title": null, "axis": null}, "y": {"datum": 26400, "type": "quantitative", "title": null, "axis": null}}},
  {"data": {"values": [{}]}, "mark": {"type": "text", "text": "SMA60 21960.24", "align": "left", "baseline": "middle", "font": "DejaVu Sans", "fontSize": 9, "fontWeight": "bold", "color": "#e8e800"},
   "encoding": {"x": {"datum": {"year": 2017, "month": 1, "date": 6}, "type": "temporal", "title": null, "axis": null}, "y": {"datum": 26400, "type": "quantitative", "title": null, "axis": null}}},
  {"data": {"values": [{}]}, "mark": {"type": "text", "text": "↑", "align": "left", "baseline": "middle", "font": "DejaVu Sans", "fontSize": 9, "fontWeight": "bold", "color": "#ff2020"},
   "encoding": {"x": {"datum": {"year": 2018, "month": 12, "date": 25}, "type": "temporal", "title": null, "axis": null}, "y": {"datum": 26400, "type": "quantitative", "title": null, "axis": null}}}
 ]
},
{
 "width": 680, "height": 23,
 "view": {"stroke": "#888888"},
 "layer": [
  {"data": {"name": "gridYears"}, "mark": {"type": "rule", "strokeWidth": 1, "color": "#555555"},
   "encoding": {
    "x": {"field": "date", "type": "temporal", "title": null, "axis": null,
      "scale": {"domain": [{"year": 2009, "month": 10, "date": 13}, {"year": 2025, "month": 5, "date": 6}], "nice": false}}
   }},
  {"data": {"values": [{"volume": 20000}]}, "mark": {"type": "rule", "strokeWidth": 1, "color": "#666666"},
   "encoding": {
    "y": {"field": "volume", "type": "quantitative", "title": null,
      "scale": {"domain": [0, 30667], "nice": false},
      "axis": {"orient": "right", "values": [20000], "grid": false, "labelPadding": 3, "format": "d"}}
   }}
 ]
},
{
 "width": 680, "height": 138,
 "view": {"stroke": "#666666"},
 "layer": [
  {"data": {"name": "buyback"}, "mark": {"type": "bar", "size": 1.5},
   "encoding": {
    "x": {"field": "date", "type": "temporal", "title": null,
      "scale": {"domain": [{"year": 2009, "month": 10, "date": 13}, {"year": 2025, "month": 5, "date": 6}], "nice": false},
      "axis": {"values": [{"year":2009,"month":10,"date":26},{"year":2011,"month":8,"date":28},{"year":2012,"month":5,"date":31},{"year":2013,"month":2,"date":15},{"year":2014,"month":1,"date":1},{"year":2015,"month":1,"date":1},{"year":2016,"month":1,"date":1},{"year":2017,"month":1,"date":1},{"year":2018,"month":1,"date":1},{"year":2019,"month":1,"date":1},{"year":2020,"month":1,"date":1},{"year":2021,"month":1,"date":1},{"year":2022,"month":1,"date":1},{"year":2023,"month":1,"date":1},{"year":2024,"month":1,"date":1},{"year":2024,"month":9,"date":1}],
        "grid": true, "gridColor": "#555555", "gridOpacity": {"condition": {"test": "year(datum.value) == 2009", "value": 0}, "value": 1},
        "domain": true, "domainColor": "#888888", "ticks": true, "tickColor": "#aaaaaa", "tickSize": 3,
        "labelExpr": "year(datum.value) == 2009 ? '2009/10/26' : (month(datum.value) == 8 ? '09' : timeFormat(datum.value, '%Y'))",
        "labelColor": {"condition": {"test": "year(datum.value) == 2009 || month(datum.value) == 8", "value": "#cfc48a"}, "value": "#e8e020"},
        "labelFontWeight": {"condition": {"test": "year(datum.value) == 2009 || month(datum.value) == 8", "value": "normal"}, "value": "bold"},
        "labelAlign": {"condition": {"test": "year(datum.value) == 2009", "value": "left"}, "value": "center"},
        "labelFlush": false, "labelOverlap": false, "labelPadding": 2, "labelFontSize": 9}},
    "y": {"field": "value", "type": "quantitative", "title": null,
      "scale": {"domain": [0, 201], "nice": false},
      "axis": {"orient": "right", "values": [50, 100, 150], "grid": true, "gridColor": "#555555", "labelExpr": "datum.value + 'B'", "labelPadding": 3}},
    "color": {"field": "dir", "type": "nominal", "legend": null, "scale": {"domain": ["up", "down", "mixed"], "range": ["#c80000", "#12a012", "#a08a10"]}}
   }},
  {"data": {"values": [{}]}, "mark": {"type": "text", "text": "庫藏股指標", "align": "left", "baseline": "middle", "font": "Noto Sans CJK TC", "fontSize": 9.5, "color": "#e0e0e0"},
   "encoding": {"x": {"datum": {"year": 2009, "month": 10, "date": 22}, "type": "temporal", "title": null}, "y": {"datum": 188, "type": "quantitative", "title": null}}},
  {"data": {"values": [{}]}, "mark": {"type": "square", "size": 100, "filled": true, "color": "#9b59d6", "opacity": 1},
   "encoding": {"x": {"datum": {"year": 2011, "month": 4, "date": 25}, "type": "temporal", "title": null}, "y": {"datum": 188, "type": "quantitative", "title": null}}},
  {"data": {"values": [{}]}, "mark": {"type": "text", "text": "≡", "align": "center", "baseline": "middle", "font": "DejaVu Sans", "fontSize": 10, "color": "#ffffff"},
   "encoding": {"x": {"datum": {"year": 2011, "month": 4, "date": 25}, "type": "temporal", "title": null}, "y": {"datum": 188, "type": "quantitative", "title": null}}},
  {"data": {"values": [{}]}, "mark": {"type": "text", "text": "申報總市值 1554億", "align": "left", "baseline": "middle", "font": "Noto Sans CJK TC", "fontSize": 9, "color": "#e06030"},
   "encoding": {"x": {"datum": {"year": 2011, "month": 10, "date": 1}, "type": "temporal", "title": null}, "y": {"datum": 188, "type": "quantitative", "title": null}}},
  {"data": {"values": [{}]}, "mark": {"type": "text", "text": "↑", "align": "left", "baseline": "middle", "font": "DejaVu Sans", "fontSize": 9, "fontWeight": "bold", "color": "#ff2020"},
   "encoding": {"x": {"datum": {"year": 2013, "month": 7, "date": 15}, "type": "temporal", "title": null}, "y": {"datum": 188, "type": "quantitative", "title": null}}},
  {"data": {"values": [{}]}, "mark": {"type": "text", "text": "申報家數", "align": "left", "baseline": "middle", "font": "Noto Sans CJK TC", "fontSize": 9, "color": "#d8d040"},
   "encoding": {"x": {"datum": {"year": 2013, "month": 12, "date": 29}, "type": "temporal", "title": null}, "y": {"datum": 188, "type": "quantitative", "title": null}}},
  {"data": {"values": [{}]}, "mark": {"type": "text", "text": "317", "align": "left", "baseline": "middle", "font": "DejaVu Sans", "fontSize": 9, "fontWeight": "bold", "color": "#ffff30"},
   "encoding": {"x": {"datum": {"year": 2014, "month": 11, "date": 20}, "type": "temporal", "title": null}, "y": {"datum": 188, "type": "quantitative", "title": null}}},
  {"data": {"values": [{}]}, "mark": {"type": "text", "text": "↑", "align": "left", "baseline": "middle", "font": "DejaVu Sans", "fontSize": 9, "fontWeight": "bold", "color": "#ff2020"},
   "encoding": {"x": {"datum": {"year": 2015, "month": 5, "date": 15}, "type": "temporal", "title": null}, "y": {"datum": 188, "type": "quantitative", "title": null}}},
  {"data": {"values": [{}]}, "mark": {"type": "point", "shape": "M -0.5 0 A 0.5 1 0 1 0 0.5 0 A 0.5 1 0 1 0 -0.5 0 Z", "size": 13456, "filled": false, "strokeWidth": 3, "color": "#ffff00", "opacity": 1},
   "encoding": {"x": {"datum": {"year": 2011, "month": 8, "date": 12}, "type": "temporal", "title": null}, "y": {"datum": 80, "type": "quantitative", "title": null}}},
  {"data": {"values": [{}]}, "mark": {"type": "point", "shape": "M -0.38 0 A 0.38 1 0 1 0 0.38 0 A 0.38 1 0 1 0 -0.38 0 Z", "size": 17424, "filled": false, "strokeWidth": 3, "color": "#ffff00", "opacity": 1},
   "encoding": {"x": {"datum": {"year": 2015, "month": 8, "date": 22}, "type": "temporal", "title": null}, "y": {"datum": 92, "type": "quantitative", "title": null}}},
  {"data": {"values": [{}]}, "mark": {"type": "point", "shape": "M -0.39 0 A 0.39 1 0 1 0 0.39 0 A 0.39 1 0 1 0 -0.39 0 Z", "size": 17424, "filled": false, "strokeWidth": 3, "color": "#ffff00", "opacity": 1},
   "encoding": {"x": {"datum": {"year": 2020, "month": 4, "date": 15}, "type": "temporal", "title": null}, "y": {"datum": 92, "type": "quantitative", "title": null}}},
  {"data": {"values": [{}]}, "mark": {"type": "point", "shape": "M -0.46 0 A 0.46 1 0 1 0 0.46 0 A 0.46 1 0 1 0 -0.46 0 Z", "size": 17956, "filled": false, "strokeWidth": 3, "color": "#ffff00", "opacity": 1},
   "encoding": {"x": {"datum": {"year": 2025, "month": 5, "date": 14}, "type": "temporal", "title": null}, "y": {"datum": 89, "type": "quantitative", "title": null}}}
 ]
}
]
}
